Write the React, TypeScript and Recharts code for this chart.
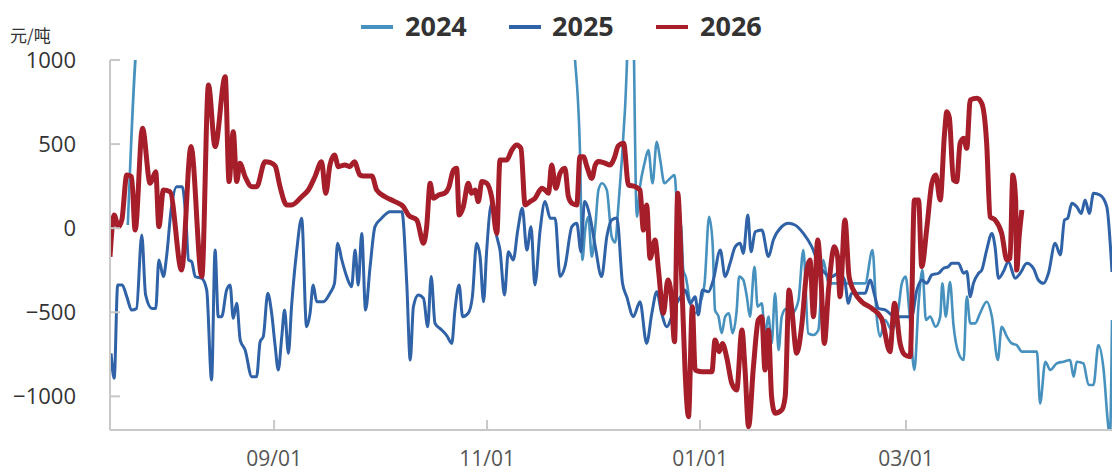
import { LineChart, Line, XAxis, YAxis } from "recharts";

// x = days counted from 07/16, y = 元/吨
const s2024: [number, number][] = [
  [5.1, 19], [8.5, 1250], [40, 1700], [90, 1700], [131.5, 1300], [133.2, 1000], [134.6, 465], [135.3, -189],
  [136.1, -11], [137, 68], [138, -169], [139, 9], [139.9, 227], [140.9, 267], [142.3, 227], [143.7, -51],
  [144.7, -85], [145.6, 128], [146.6, 405], [147.5, 703], [149.5, 1600], [150.9, 68], [151.8, 247], [153.1, 386],
  [154.2, 465], [155.4, 267], [156.6, 514], [157.6, 405], [158.8, 267], [160.4, 296], [161.7, 316], [162.6, 68],
  [163.6, 9], [164.2, -249], [164.9, -288], [166.2, -447], [167.6, -506], [169, -447], [170.3, -328], [171.6, 68],
  [172.6, -90], [173.3, -487], [174.3, -526], [175.2, -625], [176.2, -526], [177.3, -506], [178.3, -625], [179.5, -487],
  [180.2, -288], [181.4, -308], [182.4, -407], [183.3, -526], [184.6, -229], [185.5, -467], [186.7, -447], [187.6, -625],
  [188.6, -526], [189.5, -685], [190.5, -387], [191.5, -724], [192.4, -526], [193.6, -480], [194.6, -526], [195.7, -506],
  [197.2, -427], [198.6, -130], [200, -625], [201.5, -635], [202.9, -605], [204.3, -189], [205.8, -328], [207.7, -328],
  [210.5, -328], [213.4, -328], [216.3, -328], [218.4, -130], [219.6, -526], [220.6, -645], [222, -546], [223.9, -605],
  [225.8, -486], [226.8, -328], [227.9, -288], [228.9, -486], [230.4, -843], [231.6, -447], [232.7, -249], [233.7, -546],
  [234.9, -526], [236.5, -586], [237.8, -526], [238.4, -328], [239.4, -526], [240.6, -320], [241.6, -576], [243, -740],
  [244.5, -784], [245.4, -407], [246.4, -566], [247.8, -566], [249.2, -506], [251.1, -437], [252.6, -526], [254.3, -784],
  [255.4, -586], [256.9, -645], [258.3, -685], [259.7, -695], [261.2, -734], [263.1, -734], [265.5, -734], [266.4, -1042],
  [267.9, -794], [269.3, -843], [271.2, -804], [273.1, -794], [275, -784], [276, -883], [276.9, -794], [278.8, -804],
  [280.3, -932], [281.7, -932], [283.1, -695], [284.6, -843], [285.8, -1150], [286.4, -1250], [287, -546],
];

const s2025: [number, number][] = [
  [0.3, -744], [1.2, -893], [2.2, -338], [3.5, -338], [4.8, -407], [6.2, -487], [7.6, -477], [9.1, -41],
  [10.2, -397], [12, -477], [13.1, -477], [14, -189], [15.3, -288], [16.2, -169], [17.5, 108], [19.1, 247],
  [20.7, 247], [21.7, 68], [22.5, -189], [23.4, -199], [24.4, -288], [26.3, -298], [27.7, -368], [29.1, -903],
  [30.1, -130], [31, -526], [32, -526], [33.4, -368], [34.4, -338], [35.3, -536], [36.3, -447], [37.3, -665],
  [38.7, -724], [40.6, -883], [42, -883], [43, -675], [43.9, -645], [45.2, -387], [46.3, -506], [47.3, -700],
  [48.2, -843], [49.2, -645], [50, -487], [51.1, -744], [52, -467], [53.5, -130], [54.9, 59], [56.3, -586],
  [57.3, -506], [58.2, -338], [59.2, -437], [61.1, -437], [63, -387], [64.3, -328], [65.2, -90], [66.4, -189],
  [67.8, -288], [69.2, -348], [70.2, -130], [71.1, -338], [72.1, -31], [73.2, -487], [74.5, -229], [75.9, 9],
  [77.8, 59], [80.2, 98], [83.6, 98], [85, -328], [86, -784], [86.9, -467], [88.3, -397], [89.8, -417],
  [91, -586], [92, -288], [93.1, -566], [95, -605], [96.5, -640], [97.9, -685], [98.8, -487], [100, -338],
  [101, -526], [102.6, -506], [103.8, -407], [105, -90], [106, -169], [107, -437], [107.9, -130], [109.3, 148],
  [110.8, -51], [111.7, -130], [113, -397], [114.1, -140], [115.5, -189], [116.8, -11], [118.1, 118], [119.4, -130],
  [120.6, 9], [121.7, -338], [123.2, -11], [124.6, 158], [126.1, 59], [127.5, 59], [128.9, -288], [130.3, -229],
  [132.3, 9], [133.7, 29], [134.9, -140], [135.9, 158], [137.5, 68], [139, -110], [140.8, -288], [142.3, -51],
  [143.7, 49], [145.2, 60], [146.8, -328], [148, -407], [149.9, -526], [151.8, -437], [153.7, -685], [155.2, -506],
  [156.6, -378], [158, -506], [159.5, -586], [160.9, -526], [162.3, -447], [163.8, -397], [164.7, -368], [166.2, -447],
  [167.6, -407], [168.5, -516], [169.7, -368], [171.4, -378], [172.8, -308], [174.8, -130], [176.2, -288], [177.6, -209],
  [179.1, -110], [180.5, -90], [181.4, -150], [182.7, 78], [183.6, -140], [184.8, -21], [186.7, -11], [188.6, -169],
  [190, -70], [192.4, 9], [194.3, 29], [196.2, 19], [198.6, -31], [201, -110], [202.9, -209], [204.8, -268],
  [206.7, -288], [208.6, -268], [210.4, -308], [211.5, -447], [212.4, -387], [214.4, -387], [216.3, -387], [217.7, -308],
  [219.1, -407], [220.1, -477], [222, -486], [224.9, -526], [227.7, -526], [229.6, -526], [231.1, -368], [232.5, -308],
  [233.9, -328], [235.4, -278], [237.3, -268], [238.7, -239], [240.1, -229], [241.1, -209], [243, -209], [244.5, -268],
  [245.4, -258], [246.4, -407], [247.3, -328], [248.8, -268], [249.7, -249], [251.1, -130], [252.6, -31], [253.5, -110],
  [254.5, -298], [255.9, -258], [257.3, -199], [259.3, -298], [260.7, -268], [262.6, -209], [264.5, -239], [265.9, -308],
  [267.4, -328], [268.8, -268], [270.7, -90], [272.2, -159], [273.4, 49], [274.3, 59], [275.5, 148], [276.9, 128],
  [278.2, 88], [279.3, 168], [280.5, 88], [281.7, 207], [283.6, 197], [285.5, 128], [287, -260],
];

const s2026: [number, number][] = [
  [0, -170], [1.2, 78], [2.4, 8], [3.4, 50], [4.8, 316], [6.2, 306], [7.2, -11], [9.3, 594],
  [11.5, 267], [13.1, 336], [14, 9], [15.3, 227], [17.2, 217], [20.5, -249], [23.2, 485], [26.3, -288],
  [28.2, 851], [30.1, 485], [33, 901], [34.1, 277], [35.3, 574], [36.3, 277], [37.2, 386], [38.7, 306],
  [40.6, 247], [42, 247], [44.4, 395], [46, 390], [47.3, 370], [48.7, 247], [50.6, 138], [52, 138],
  [54.9, 187], [56.8, 227], [58.7, 306], [60.6, 395], [61.8, 207], [63, 376], [64.3, 435], [65.4, 366],
  [67.3, 376], [68.7, 366], [70, 395], [71.6, 316], [72.6, 310], [75, 310], [76.4, 227], [78.8, 187],
  [81.6, 158], [84, 128], [85.5, 78], [87.9, 48], [89.8, -90], [90.7, 9], [91.7, 267], [92.6, 178],
  [94.1, 197], [96, 210], [97, 240], [98.4, 346], [99.3, 356], [100, 78], [101.2, 128], [102.6, 267],
  [103.6, 207], [104.6, 227], [105.5, 158], [106.5, 277], [107.9, 267], [109.3, 187], [110.8, -31], [111.7, 405],
  [113.6, 405], [115.1, 465], [116.5, 495], [117.7, 475], [118.9, 138], [120.3, 158], [121.7, 177], [123.7, 237],
  [124.6, 227], [125.6, 207], [126.5, 376], [127.7, 237], [128.9, 326], [130.3, 356], [131.3, 187], [132.3, 148],
  [133.7, 138], [134.6, 425], [135.6, 425], [136.6, 366], [138, 296], [139, 376], [139.9, 396], [141.8, 386],
  [143.2, 376], [144.5, 420], [145.6, 490], [147.1, 505], [148.5, 257], [150.4, 247], [151.8, 227], [152.8, -11],
  [153.7, 138], [154.7, -179], [156.1, -70], [157.1, -249], [158.5, -506], [159.8, -308], [160.7, -387], [161.7, -675],
  [162.6, 207], [163.8, -328], [164.7, -843], [165.7, -1121], [166.8, -467], [167.6, -843], [169.5, -853], [172.4, -853],
  [173.3, -665], [174.5, -734], [175.4, -685], [176.7, -774], [178.1, -923], [179.5, -962], [181, -605], [181.9, -843],
  [182.9, -1180], [184.3, -823], [185.7, -546], [186.7, -526], [187.6, -843], [188.6, -605], [189.5, -1002], [190.5, -1100],
  [192.4, -1081], [193.4, -1000], [194.5, -368], [195.3, -486], [196.7, -744], [198.1, -585], [199.6, -249], [200.5, -189],
  [201.5, -526], [202.7, -70], [203.7, -328], [204.6, -685], [205.8, -368], [207.5, -110], [208.4, -169], [209.1, -407],
  [210.5, 49], [211.7, -288], [213.4, -387], [215.3, -437], [218.2, -477], [221, -536], [223.4, -734], [224.7, -447],
  [226.3, -685], [227.7, -754], [229.2, -764], [230.4, 168], [231.6, 168], [232.5, -229], [234, 9], [235.4, 267],
  [236.5, 316], [237.8, 168], [239, 554], [239.7, 693], [240.4, 660], [241.6, 286], [242.5, 276], [243.5, 504],
  [244.5, 534], [245.4, 475], [246.4, 762], [248.3, 772], [249.7, 742], [251.1, 505], [252.1, 68], [253.5, 49],
  [255.4, -31], [256.9, -189], [257.8, -179], [258.6, 316], [259.4, 168], [259.7, -249], [260.4, -51], [261.2, 108],
];

const xTicks = [47, 108, 169, 228];
const xLabels = ["09/01", "11/01", "01/01", "03/01"];
const yTicks = [-1000, -500, 0, 500, 1000];

const series = [
  { name: "2024", data: s2024, color: "#4791bf", width: 2.6 },
  { name: "2025", data: s2025, color: "#2f62a6", width: 3 },
  { name: "2026", data: s2026, color: "#a51e29", width: 5 },
];

const PLOT_LEFT = 110;
const PLOT_BOTTOM = 430;
const FONT = "'Open Sans', 'Noto Sans', sans-serif";

const toRows = (pts: [number, number][]) => pts.map(([d, v]) => ({ d, v }));

const YTick = (props: any) => {
  const { y, payload } = props;
  const val = payload.value;
  const label = val < 0 ? "\u2212" + Math.abs(val) : String(val);
  return (
    <g>
      <line x1={PLOT_LEFT} x2={PLOT_LEFT + 10} y1={y} y2={y} stroke="#c8c8c8" strokeWidth={2} />
      <text x={76} y={y} dy="0.36em" textAnchor="end" fontSize={22} fill="#333" fontFamily={FONT}>
        {label}
      </text>
    </g>
  );
};

const XTick = (props: any) => {
  const { x, payload } = props;
  const i = xTicks.indexOf(payload.value);
  return (
    <g>
      <line x1={x} x2={x} y1={PLOT_BOTTOM} y2={PLOT_BOTTOM - 10} stroke="#c8c8c8" strokeWidth={2} />
      <text x={x} y={466} textAnchor="middle" fontSize={21} fill="#555" fontFamily={FONT}>
        {xLabels[i]}
      </text>
    </g>
  );
};

const legendPos = [
  { line: 361, text: 405 },
  { line: 509, text: 552 },
  { line: 656, text: 700 },
];

export default function App() {
  return (
    <div style={{ position: "absolute", left: 0, top: 0, width: 1115, height: 475, background: "#fff" }}>
      <LineChart width={1115} height={475} margin={{ top: 60, right: 3, bottom: 0, left: 0 }}>
        <XAxis
          type="number"
          dataKey="d"
          domain={[0, 287]}
          ticks={xTicks}
          allowDataOverflow
          height={45}
          axisLine={{ stroke: "#c8c8c8", strokeWidth: 2 }}
          tickLine={false}
          tick={<XTick />}
        />
        <YAxis
          type="number"
          domain={[-1200, 1000]}
          ticks={yTicks}
          allowDataOverflow
          width={110}
          axisLine={{ stroke: "#c8c8c8", strokeWidth: 2 }}
          tickLine={false}
          tick={<YTick />}
        />
        {series.map((s) => (
          <Line
            key={s.name}
            data={toRows(s.data)}
            dataKey="v"
            type="monotone"
            stroke={s.color}
            strokeWidth={s.width}
            dot={false}
            activeDot={false}
            isAnimationActive={false}
          />
        ))}
      </LineChart>
      <div
        style={{
          position: "absolute",
          left: 10,
          top: 25,
          fontSize: 17,
          color: "#333",
          fontFamily: "'Noto Sans CJK SC', sans-serif",
          lineHeight: "20px",
        }}
      >
        元/吨
      </div>
      {series.map((s, i) => (
        <div key={s.name}>
          <div
            style={{
              position: "absolute",
              left: legendPos[i].line,
              top: 25,
              width: 32,
              height: 4,
              background: s.color,
            }}
          />
          <div
            style={{
              position: "absolute",
              left: legendPos[i].text,
              top: 8,
              fontSize: 27,
              lineHeight: "36px",
              fontWeight: 700,
              color: "#333",
              fontFamily: FONT,
            }}
          >
            {s.name}
          </div>
        </div>
      ))}
    </div>
  );
}
